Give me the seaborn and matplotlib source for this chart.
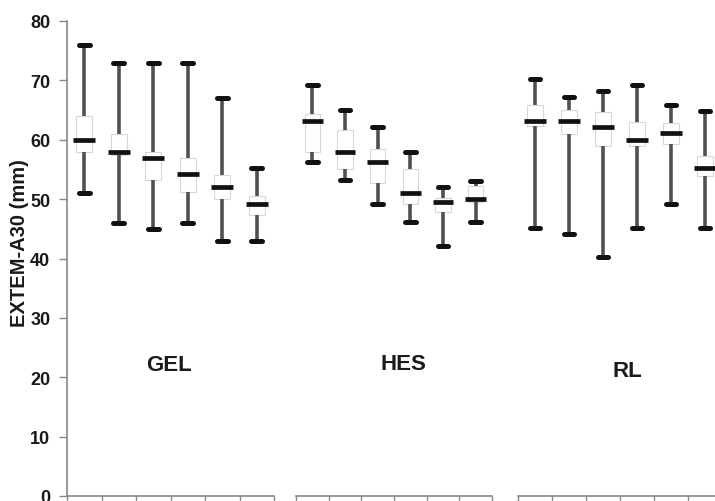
import numpy as np
import pandas as pd
import seaborn as sns
import matplotlib.pyplot as plt

sns.set_theme(style="white")
plt.rcParams['font.family'] = ['Liberation Sans', 'DejaVu Sans']
plt.rcParams['font.weight'] = 'bold'

groups = ["GEL", "HES", "RL"]
categories = ["1", "2", "3", "4", "5", "6"]

gel_lo = [51, 46, 45, 46, 43, 43]
gel_q1 = [58, 57.5, 53.2, 51.2, 50, 47.3]
gel_med = [60, 58, 57, 54.2, 52, 49.2]
gel_q3 = [64, 61, 58, 56.9, 54, 50.6]
gel_hi = [76, 73, 73, 73, 67, 55.2]

hes_lo = [56.2, 53.2, 49.2, 46.2, 42.1, 46.2]
hes_q1 = [57.9, 55, 52.8, 49.2, 47.8, 49.5]
hes_med = [63.1, 58, 56.2, 51.1, 49.6, 50]
hes_q3 = [64.3, 61.6, 58.4, 55, 50.2, 52.2]
hes_hi = [69.2, 65, 62.1, 58, 52.1, 53.1]

rl_lo = [45.2, 44.1, 40.2, 45.2, 49.2, 45.2]
rl_q1 = [62.3, 61, 59, 59, 59.3, 53.9]
rl_med = [63.1, 63.1, 62.1, 60, 61.1, 55.2]
rl_q3 = [65.8, 65, 64.6, 63, 62.9, 57.2]
rl_hi = [70.3, 67.2, 68.2, 69.2, 65.9, 64.9]

label_x = [2.45, 2.79, 2.71]
label_y = [22.2, 22.3, 21.2]

stats = {
    "GEL": (gel_lo, gel_q1, gel_med, gel_q3, gel_hi),
    "HES": (hes_lo, hes_q1, hes_med, hes_q3, hes_hi),
    "RL": (rl_lo, rl_q1, rl_med, rl_q3, rl_hi),
}

fig = plt.figure(figsize=(7.15, 5.02), dpi=100)
W, H = 715.0, 502.0
y0_px, y80_px = 497.0, 22.0
axes_px = [(67, 274), (296, 492), (518, 722)]

for gi, g in enumerate(groups):
    x0, x1 = axes_px[gi]
    ax = fig.add_axes([x0 / W, (H - y0_px) / H, (x1 - x0) / W, (y0_px - y80_px) / H])
    rows = []
    for ci, cat in enumerate(categories):
        for arr in stats[g]:
            rows.append({"cat": cat, "value": arr[ci]})
    df = pd.DataFrame(rows)
    sns.boxplot(
        data=df, x="cat", y="value", order=categories, ax=ax,
        whis=(0, 100), width=0.64, fill=True, color="white",
        boxprops=dict(facecolor="white", edgecolor="#d8d8d8", linewidth=0.8),
        whiskerprops=dict(color="#505050", linewidth=2.6),
        capprops=dict(color="#111111", linewidth=3.6, solid_capstyle="round"),
        medianprops=dict(color="#111111", linewidth=3.4),
        showfliers=False,
    )
    # narrow the faint box outlines relative to the median bar
    for p in ax.patches:
        path = p.get_path()
        v = path.vertices
        cx = (v[:, 0].min() + v[:, 0].max()) / 2.0
        v[:, 0] = cx + (v[:, 0] - cx) * 0.73
    ax.set_ylim(0, 80)
    ax.set_xlim(-0.5, 5.5)
    ax.set_xticks(np.arange(-0.5, 6.0, 1.0))
    ax.set_xticklabels([])
    ax.set_xlabel("")
    ax.tick_params(axis="x", which="both", direction="out", length=5, width=1, color="#888888", bottom=True)
    for s in ["top", "right"]:
        ax.spines[s].set_visible(False)
    ax.spines["bottom"].set_color("#888888")
    ax.spines["bottom"].set_linewidth(1.2)
    ax.text(label_x[gi], label_y[gi], g, ha="center", va="center", fontsize=16, fontweight="bold", color="#1a1a1a")
    if gi == 0:
        ax.spines["left"].set_color("#888888")
        ax.spines["left"].set_linewidth(1.2)
        ax.set_yticks(np.arange(0, 81, 10))
        ax.tick_params(axis="y", direction="out", length=6, width=1, color="#888888", left=True,
                       labelsize=13, labelcolor="#1a1a1a", pad=6)
        for t in ax.get_yticklabels():
            t.set_fontweight("bold")
        ax.set_ylabel("EXTEM-A30 (mm)", fontsize=14.5, fontweight="bold", color="#1a1a1a", labelpad=1)
        ax.yaxis.label.set_y(0.535)
    else:
        ax.spines["left"].set_visible(False)
        ax.set_yticks([])
        ax.set_ylabel("")
    ax.patch.set_alpha(0)

fig.savefig("out.png", dpi=100)
